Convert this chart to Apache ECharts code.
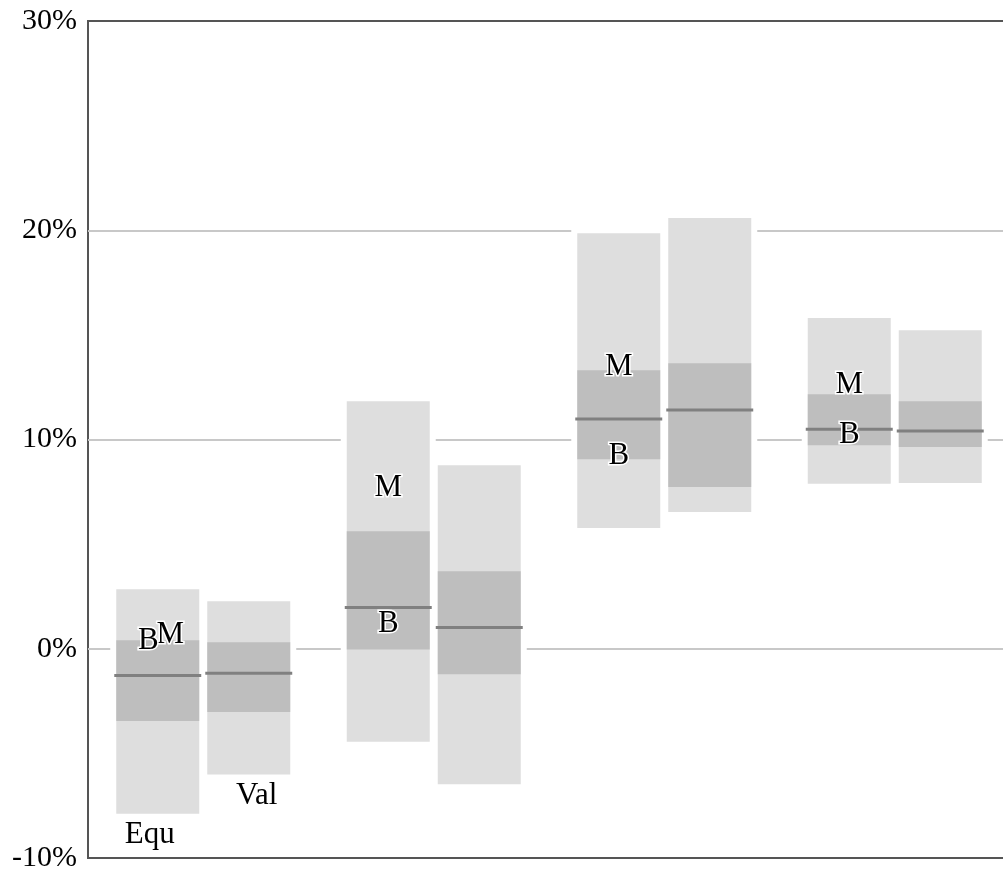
<!DOCTYPE html>
<html>
<head>
<meta charset="utf-8">
<script src="https://cdn.jsdelivr.net/npm/echarts@6/dist/echarts.min.js"></script>
<style>html,body{margin:0;padding:0;background:#fff;}#chart{width:1003px;height:871px;}</style>
</head>
<body>
<div id="chart"></div>
<script>
// ---- data ----
const categories = ['G1', 'G2', 'G3', 'G4'];
const seriesNames = ['Equ', 'Val'];
const yTicks = [-10, 0, 10, 20, 30];

const equLow  = [-7.88, -4.45,  5.77,  7.89];
const equQ1   = [-3.45, -0.04,  9.06,  9.73];
const equMed  = [-1.28,  1.97, 10.98, 10.49];
const equQ3   = [ 0.41,  5.62, 13.31, 12.16];
const equHigh = [ 2.84, 11.83, 19.86, 15.81];

const valLow  = [-6.01, -6.48,  6.54,  7.92];
const valQ1   = [-3.02, -1.22,  7.73,  9.64];
const valMed  = [-1.17,  1.01, 11.41, 10.41];
const valQ3   = [ 0.31,  3.70, 13.64, 11.83];
const valHigh = [ 2.27,  8.77, 20.59, 15.22];

const markM = [0.66, 7.70, 13.47, 12.63];
const markB = [0.36, 1.20,  9.21, 10.20];

// ---- build ----
const seriesData = [
  [equLow, equQ1, equMed, equQ3, equHigh],
  [valLow, valQ1, valMed, valQ3, valHigh]
];
const boxData = [];
seriesData.forEach((s, si) => {
  categories.forEach((c, ci) => {
    boxData.push([ci, s[0][ci], s[1][ci], s[2][ci], s[3][ci], s[4][ci], si]);
  });
});
const markData = categories.map((c, ci) => [ci, markM[ci], markB[ci]]);

const OFFSET = 0.1974, WIDTH = 0.36, PAD = 6;
const FONT = '31px "Liberation Serif", "Times New Roman", serif';

function boxGeom(api) {
  const ci = api.value(0), si = api.value(6);
  const band = api.size([1, 0])[0];
  const cx = api.coord([ci, 0])[0] + (si === 0 ? -1 : 1) * band * OFFSET;
  const w = band * WIDTH;
  return {cx, w, x0: cx - w / 2};
}

function renderBg(params, api) {
  const g = boxGeom(api);
  const yTop = api.coord([0, api.value(5)])[1];
  const yBot = api.coord([0, api.value(1)])[1];
  return {type: 'rect', shape: {x: g.x0 - PAD, y: yTop - PAD, width: g.w + 2 * PAD, height: yBot - yTop + 2 * PAD},
    style: {fill: '#ffffff'}};
}

function renderBox(params, api) {
  const g = boxGeom(api);
  const y = i => api.coord([0, api.value(i)])[1];
  const children = [
    {type: 'rect', shape: {x: g.x0, y: y(5), width: g.w, height: y(1) - y(5)}, style: {fill: '#dedede'}},
    {type: 'rect', shape: {x: g.x0, y: y(4), width: g.w, height: y(2) - y(4)}, style: {fill: '#bebebe'}},
    {type: 'line', shape: {x1: g.x0 - 2, y1: y(3), x2: g.x0 + g.w + 2, y2: y(3)}, style: {stroke: '#808080', lineWidth: 3}}
  ];
  if (api.value(0) === 0) {
    const si = api.value(6);
    children.push({type: 'text', style: {text: seriesNames[si], x: g.cx + (si === 0 ? -8 : 8), y: y(1) + 21,
      align: 'center', verticalAlign: 'middle', font: FONT, fill: '#000'}});
  }
  return {type: 'group', children};
}

function renderMarks(params, api) {
  const ci = api.value(0);
  const band = api.size([1, 0])[0];
  const cx = api.coord([ci, 0])[0] - band * OFFSET;
  const m = api.value(1), b = api.value(2);
  const close = Math.abs(m - b) < 1.5;
  const mk = (t, v, dx) => ({type: 'text', style: {text: t, x: cx + dx, y: api.coord([ci, v])[1],
    align: 'center', verticalAlign: 'middle', font: FONT, fill: '#000', stroke: '#fff', lineWidth: 3}});
  return {type: 'group', children: [mk('M', m, close ? 12.5 : 0), mk('B', b, close ? -9.5 : 0)]};
}

const chart = echarts.init(document.getElementById('chart'), null, {renderer: 'canvas'});
chart.setOption({
  animation: false,
  backgroundColor: '#fff',
  grid: {left: 88, top: 21, width: 922, height: 837, show: true, borderColor: '#555', borderWidth: 2,
    backgroundColor: 'transparent', containLabel: false, outerBoundsMode: 'none'},
  xAxis: {type: 'category', data: categories, boundaryGap: true,
    axisLine: {show: false}, axisTick: {show: false}, axisLabel: {show: false}, splitLine: {show: false}},
  yAxis: {type: 'value', min: yTicks[0], max: yTicks[yTicks.length - 1], interval: 10,
    axisLine: {show: false}, axisTick: {show: false},
    axisLabel: {formatter: '{value}%', fontSize: 30, fontFamily: 'Liberation Serif', color: '#000', margin: 11},
    splitLine: {show: true, showMinLine: false, showMaxLine: false, lineStyle: {color: '#c8c8c8', width: 2}}},
  series: [
    {type: 'custom', z: 1, renderItem: renderBg, data: boxData, encode: {x: 0, y: [1, 5]}, silent: true},
    {type: 'custom', z: 2, renderItem: renderBox, data: boxData, encode: {x: 0, y: [1, 5]}, silent: true},
    {type: 'custom', z: 3, renderItem: renderMarks, data: markData, encode: {x: 0, y: [1, 2]}, silent: true}
  ]
});
</script>
</body>
</html>
